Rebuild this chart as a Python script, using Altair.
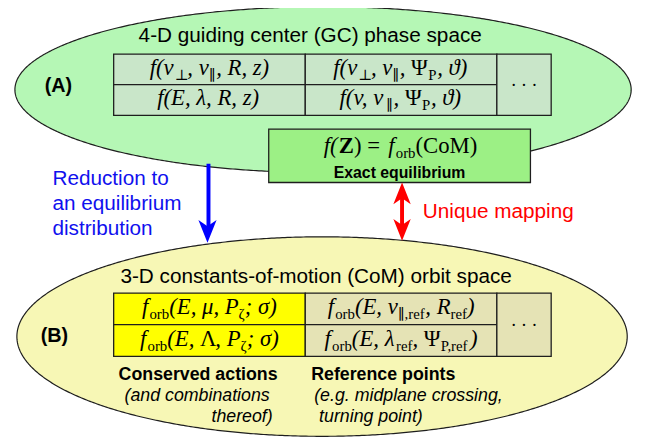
import altair as alt
import numpy as np
import pandas as pd

# ------------------------------------------------------------------ content
title_A = "4-D guiding center (GC) phase space"
title_B = "3-D constants-of-motion (CoM) orbit space"
panel_labels = ["(A)", "(B)"]
reduction_lines = ["Reduction to", "an equilibrium", "distribution"]
mapping_label = "Unique mapping"
box_caption = "Exact equilibrium"
actions_head = "Conserved actions"
actions_lines = ["(and combinations", "thereof)"]
refpts_head = "Reference points"
refpts_lines = ["(e.g. midplane crossing,", "turning point)"]
more_cells = "· · ·"

# formulas as (text, role): i = italic, r = roman, b = bold, s = subscript
formulas_A = [
    [("f(v", "i"), ("⊥", "s"), (", v", "i"), ("∥", "s"), (", R, z)", "i")],
    [("f(v", "i"), ("⊥", "s"), (", v", "i"), ("∥", "s"), (", ", "i"), ("Ψ", "r"), ("P", "s"), (", ϑ)", "i")],
    [("f(E, λ, R, z)", "i")],
    [("f(v, v", "i"), ("∥", "s"), (", ", "i"), ("Ψ", "r"), ("P", "s"), (", ϑ)", "i")],
]
formula_box = [("f(", "i"), ("Z", "b"), (") = ", "r"), ("f", "i"), ("orb", "s"), ("(CoM)", "r")]
formulas_B = [
    [("f", "i"), ("orb", "s"), ("(E, μ, P", "i"), ("ζ", "s"), ("; σ)", "i")],
    [("f", "i"), ("orb", "s"), ("(E, v", "i"), ("∥,ref", "s"), (", R", "i"), ("ref", "s"), (")", "i")],
    [("f", "i"), ("orb", "s"), ("(E, ", "i"), ("Λ", "r"), (", P", "i"), ("ζ", "s"), ("; σ)", "i")],
    [("f", "i"), ("orb", "s"), ("(E, λ", "i"), ("ref", "s"), (", ", "i"), ("Ψ", "r"), ("P,ref", "s"), (")", "i")],
]
cell_fill_A = ["#c9e6c9", "#c9e6c9", "#c9e6c9", "#c9e6c9", "#c9e6c9"]
cell_fill_B = ["#ffff00", "#e5e3b5", "#ffff00", "#e5e3b5", "#e5e3b5"]

# ------------------------------------------------------------------ layout
X0, Y0 = 8, 8
PW, PH = 645, 429
ELL_A = dict(cx=327, cy=88, rx=312, ry=84, fill="#b5f7b5")
ELL_B = dict(cx=326, cy=338, rx=309, ry=101, fill="#f7f7b5")
COLS = [115, 309, 503, 558]
ROWS_A = [52, 83, 114]
ROWS_B = [294, 326, 358]
BOX = (272, 128, 537, 182)
MATH, SUB = 23, 15
SERIF = "Liberation Serif, DejaVu Serif, serif"
SANS = "Liberation Sans, Arial, Helvetica, sans-serif"
INK = "#1e1e1e"

W_EM = {'f': 0.33, '(': 0.333, ')': 0.333, 'v': 0.444, ',': 0.25, ' ': 0.25, 'R': 0.611,
        'z': 0.389, 'E': 0.611, 'λ': 0.5, 'Ψ': 0.75, 'ϑ': 0.56, 'μ': 0.5, 'P': 0.611,
        ';': 0.333, 'σ': 0.5, 'Λ': 0.67, 'Z': 0.667, '=': 0.675, 'C': 0.667, 'o': 0.5,
        'M': 0.889, 'r': 0.333, 'b': 0.5, 'e': 0.444, 'ζ': 0.42, '⊥': 0.84, '∥': 0.5}


def seg_width(text, size):
    return sum(W_EM.get(c, 0.6 if c.isupper() else 0.47) for c in text) * size


def layout_formula(segs, cx, base):
    items = []
    for text, role in segs:
        size = SUB if role == "s" else MATH
        items.append((text, role, seg_width(text, size)))
    x = cx - sum(w for _, _, w in items) / 2
    out = []
    for text, role, w in items:
        out.append(dict(x=x, y=base + (5 if role == "s" else 0), text=text, role=role))
        x += w
    return out


xs = alt.Scale(domain=[X0, X0 + PW], nice=False, zero=False)
ys = alt.Scale(domain=[Y0, Y0 + PH], nice=False, zero=False, reverse=True)


def ex(f="x"):
    return alt.X(f"{f}:Q", scale=xs, axis=None)


def ey(f="y"):
    return alt.Y(f"{f}:Q", scale=ys, axis=None)


def ellipse_df(e, n=361):
    t = np.linspace(0, np.pi, n)
    return pd.DataFrame({"x": e["cx"] - e["rx"] * np.cos(t),
                         "y": e["cy"] - e["ry"] * np.sin(t),
                         "y2": e["cy"] + e["ry"] * np.sin(t)})


def ellipse_layer(e):
    return alt.Chart(ellipse_df(e)).mark_area(
        fill=e["fill"], stroke=INK, strokeWidth=1.2, interpolate="linear", opacity=1
    ).encode(x=ex(), y=ey(), y2=alt.Y2("y2:Q"))


def table_rects(rows, fills):
    recs = []
    k = 0
    for r in range(2):
        for c in range(2):
            recs.append(dict(x=COLS[c], x2=COLS[c + 1], y=rows[r], y2=rows[r + 1], fill=fills[k]))
            k += 1
    recs.append(dict(x=COLS[2], x2=COLS[3], y=rows[0], y2=rows[2], fill=fills[4]))
    return recs


def rect_layer(recs):
    return alt.Chart(pd.DataFrame(recs)).mark_rect(stroke=INK, strokeWidth=1.3).encode(
        x=ex(), x2=alt.X2("x2:Q"), y=ey(), y2=alt.Y2("y2:Q"),
        fill=alt.Fill("fill:N", scale=None))


def text_layer(recs, **mk):
    return alt.Chart(pd.DataFrame(recs)).mark_text(**mk).encode(x=ex(), y=ey(), text="text:N")


# ---- math pieces
math = []
ccx = [(COLS[0] + COLS[1]) / 2, (COLS[1] + COLS[2]) / 2]
for k, segs in enumerate(formulas_A):
    r, c = divmod(k, 2)
    math += layout_formula(segs, ccx[c], (ROWS_A[r] + ROWS_A[r + 1]) / 2 + 5.5)
for k, segs in enumerate(formulas_B):
    r, c = divmod(k, 2)
    math += layout_formula(segs, ccx[c], (ROWS_B[r] + ROWS_B[r + 1]) / 2 + 5.5)
math += layout_formula(formula_box, (BOX[0] + BOX[2]) / 2 + 1, 152)
math += [dict(x=(COLS[2] + COLS[3]) / 2, y=ROWS_A[1] + 6, text=more_cells, role="d"),
         dict(x=(COLS[2] + COLS[3]) / 2, y=ROWS_B[1] + 6, text=more_cells, role="d")]


def role(r):
    return [m for m in math if m["role"] == r]


layers = [
    ellipse_layer(ELL_A),
    ellipse_layer(ELL_B),
    rect_layer(table_rects(ROWS_A, cell_fill_A)),
    rect_layer(table_rects(ROWS_B, cell_fill_B)),
    rect_layer([dict(x=BOX[0], x2=BOX[2], y=BOX[1], y2=BOX[3], fill="#9cf085")]),
    text_layer(role("i"), align="left", baseline="alphabetic", font=SERIF, fontSize=MATH,
               fontStyle="italic", color="black"),
    text_layer(role("r"), align="left", baseline="alphabetic", font=SERIF, fontSize=MATH, color="black"),
    text_layer(role("b"), align="left", baseline="alphabetic", font=SERIF, fontSize=MATH,
               fontWeight="bold", color="black"),
    text_layer(role("s"), align="left", baseline="alphabetic", font=SERIF, fontSize=SUB, color="black"),
    text_layer(role("d"), align="center", baseline="alphabetic", font=SERIF, fontSize=18, color="black"),
    # titles
    text_layer([dict(x=314, y=40, text=title_A), dict(x=320, y=284, text=title_B)],
               align="center", baseline="alphabetic", font=SANS, fontSize=21, color="black"),
    text_layer([dict(x=59, y=90, text=panel_labels[0]), dict(x=55, y=343, text=panel_labels[1])],
               align="center", baseline="alphabetic", font=SANS, fontSize=20, fontWeight="bold",
               color="black"),
    text_layer([dict(x=(BOX[0] + BOX[2]) / 2, y=177, text=box_caption)],
               align="center", baseline="alphabetic", font=SANS, fontSize=16, fontWeight="bold",
               color="black"),
    text_layer([dict(x=53, y=185 + 25 * i, text=t) for i, t in enumerate(reduction_lines)],
               align="left", baseline="alphabetic", font=SANS, fontSize=21, color="#1010ee"),
    text_layer([dict(x=428, y=218, text=mapping_label)],
               align="left", baseline="alphabetic", font=SANS, fontSize=21, color="#ff0000"),
    text_layer([dict(x=120, y=382, text=actions_head), dict(x=315, y=382, text=refpts_head)],
               align="left", baseline="alphabetic", font=SANS, fontSize=18, fontWeight="bold",
               color="black"),
    text_layer([dict(x=126, y=403, text=actions_lines[0]),
                dict(x=318, y=403, text=refpts_lines[0]),
                dict(x=323, y=425, text=refpts_lines[1])],
               align="left", baseline="alphabetic", font=SANS, fontSize=18, fontStyle="italic",
               color="black"),
    text_layer([dict(x=276, y=425, text=actions_lines[1])],
               align="right", baseline="alphabetic", font=SANS, fontSize=18, fontStyle="italic",
               color="black"),
]

# ---- arrows
DOWN = "M0,1L-0.8,-1L0,-0.45L0.8,-1Z"
UP = "M0,-1L-0.8,1L0,0.45L0.8,1Z"
layers += [
    alt.Chart(pd.DataFrame([dict(x=211, y=163, y2=232)])).mark_rule(
        color="#0000ff", strokeWidth=4).encode(x=ex(), y=ey(), y2=alt.Y2("y2:Q")),
    alt.Chart(pd.DataFrame([dict(x=210, y=231.5)])).mark_point(
        shape=DOWN, size=529, filled=True, color="#0000ff", opacity=1, strokeWidth=0
    ).encode(x=ex(), y=ey()),
    alt.Chart(pd.DataFrame([dict(x=407, y=192, y2=232)])).mark_rule(
        color="#ff0000", strokeWidth=4).encode(x=ex(), y=ey(), y2=alt.Y2("y2:Q")),
    alt.Chart(pd.DataFrame([dict(x=407, y=193)])).mark_point(
        shape=UP, size=484, filled=True, color="#ff0000", opacity=1, strokeWidth=0
    ).encode(x=ex(), y=ey()),
    alt.Chart(pd.DataFrame([dict(x=407, y=230)])).mark_point(
        shape=DOWN, size=484, filled=True, color="#ff0000", opacity=1, strokeWidth=0
    ).encode(x=ex(), y=ey()),
]

chart = alt.layer(*layers).properties(
    width=PW, height=PH, padding=0, background="white",
    autosize=alt.AutoSizeParams(type="none"),
).configure_view(stroke=None)

chart.save("out.html", embed_options={"renderer": "svg", "actions": False})
